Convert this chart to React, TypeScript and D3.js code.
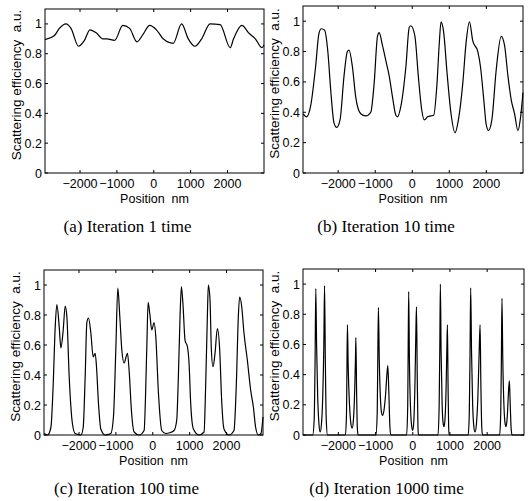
import { useRef, useEffect } from 'react';
import * as d3 from 'd3';

// x positions in nm, y in a.u.
const iter1: [number, number][] = [
  [-2950, 0.895], [-2700, 0.92], [-2560, 0.97], [-2380, 1.0], [-2245, 0.97], [-2040, 0.85],
  [-1880, 0.89], [-1730, 0.96], [-1560, 0.94], [-1380, 0.9], [-1270, 0.9], [-1060, 0.89],
  [-840, 0.99], [-655, 0.97], [-455, 0.88], [-290, 0.93], [-110, 0.99], [73, 0.96],
  [255, 0.9], [527, 0.87], [755, 1.0], [936, 0.9], [1118, 0.85], [1300, 0.9],
  [1527, 1.0], [1800, 0.995], [2073, 0.84], [2164, 0.9], [2391, 0.99], [2573, 0.94],
  [2755, 0.9], [2936, 0.84], [2990, 0.86],
];

const iter10: [number, number][] = [
  [-2944, 0.39], [-2853, 0.37], [-2745, 0.44], [-2610, 0.7], [-2519, 0.92], [-2456, 0.95],
  [-2366, 0.94], [-2276, 0.79], [-2203, 0.55], [-2113, 0.33], [-2041, 0.3], [-1950, 0.35],
  [-1842, 0.64], [-1752, 0.8], [-1707, 0.81], [-1616, 0.7], [-1526, 0.5], [-1391, 0.39],
  [-1255, 0.376], [-1120, 0.4], [-1029, 0.59], [-939, 0.9], [-894, 0.925], [-804, 0.84],
  [-713, 0.74], [-623, 0.64], [-533, 0.5], [-442, 0.38], [-397, 0.37], [-307, 0.44],
  [-172, 0.7], [-81, 0.96], [-36, 0.97], [72, 0.9], [163, 0.64], [253, 0.42],
  [325, 0.35], [415, 0.37], [506, 0.376], [578, 0.38], [668, 0.59], [731, 0.86],
  [777, 0.995], [849, 0.925], [939, 0.66], [1047, 0.39], [1156, 0.265], [1246, 0.35],
  [1364, 0.59], [1454, 0.86], [1544, 0.995], [1634, 0.87], [1770, 0.8], [1842, 0.7],
  [1932, 0.48], [1996, 0.32], [2059, 0.28], [2149, 0.35], [2267, 0.68], [2402, 0.9],
  [2492, 0.84], [2583, 0.64], [2673, 0.48], [2763, 0.39], [2853, 0.28], [2926, 0.37],
  [2989, 0.53],
];

const iter100: [number, number][] = [
  [-2944, 0.01], [-2853, 0], [-2763, 0.05], [-2700, 0.34], [-2646, 0.72], [-2601, 0.87],
  [-2537, 0.72], [-2492, 0.58], [-2429, 0.7], [-2375, 0.86], [-2330, 0.79], [-2267, 0.39],
  [-2176, 0.07], [-2104, 0.01], [-1950, 0], [-1887, 0.05], [-1833, 0.39], [-1788, 0.75],
  [-1743, 0.78], [-1679, 0.68], [-1616, 0.52], [-1562, 0.545], [-1526, 0.455], [-1472, 0.21],
  [-1409, 0.04], [-1291, 0], [-1138, 0.01], [-1066, 0.12], [-1002, 0.57], [-948, 0.98],
  [-894, 0.79], [-840, 0.57], [-777, 0.48], [-713, 0.53], [-686, 0.545], [-641, 0.43],
  [-578, 0.16], [-506, 0.02], [-370, 0], [-235, 0.03], [-163, 0.57], [-126, 0.885],
  [-81, 0.81], [-27, 0.7], [36, 0.75], [81, 0.66], [154, 0.28], [244, 0.03],
  [352, 0.01], [461, 0.015], [578, 0.03], [650, 0.1], [695, 0.39], [740, 0.79],
  [777, 0.99], [822, 0.86], [876, 0.63], [939, 0.59], [984, 0.48], [1029, 0.21],
  [1102, 0.04], [1255, 0], [1391, 0.02], [1436, 0.34], [1481, 0.79], [1508, 1.0],
  [1553, 0.9], [1589, 0.57], [1634, 0.455], [1689, 0.545], [1752, 0.71], [1815, 0.57],
  [1869, 0.23], [1932, 0.04], [2068, 0], [2203, 0.03], [2267, 0.34], [2321, 0.79],
  [2357, 0.92], [2411, 0.86], [2474, 0.68], [2565, 0.5], [2655, 0.3], [2727, 0.19],
  [2791, 0.05], [2863, 0], [2935, 0.01], [2989, 0.12],
];

const iter1000: [number, number][] = [
  [-2950, 0],
  [-2690, 0], [-2650, 0.1], [-2625, 0.5], [-2606, 0.97], [-2585, 0.6], [-2555, 0.25],
  [-2520, 0.07], [-2489, 0.02], [-2455, 0.07], [-2420, 0.25], [-2390, 0.6], [-2371, 0.99],
  [-2350, 0.5], [-2325, 0.1], [-2290, 0],
  [-1810, 0], [-1780, 0.15], [-1770, 0.4], [-1756, 0.73], [-1735, 0.45], [-1700, 0.2],
  [-1665, 0.08], [-1629, 0.045], [-1595, 0.1], [-1560, 0.3], [-1540, 0.5], [-1529, 0.645],
  [-1510, 0.3], [-1490, 0.05], [-1470, 0],
  [-990, 0], [-955, 0.15], [-940, 0.5], [-923, 0.845], [-900, 0.5], [-870, 0.25],
  [-840, 0.15], [-814, 0.13], [-770, 0.17], [-730, 0.27], [-695, 0.4], [-670, 0.46],
  [-645, 0.3], [-615, 0.06], [-590, 0],
  [-165, 0], [-135, 0.2], [-122, 0.6], [-109, 0.95], [-90, 0.5], [-60, 0.18],
  [-30, 0.06], [0, 0.03], [30, 0.1], [60, 0.35], [85, 0.7], [100, 0.85],
  [120, 0.4], [140, 0.05], [155, 0],
  [679, 0], [710, 0.2], [728, 0.6], [742, 1.0], [762, 0.55], [790, 0.2],
  [815, 0.08], [842, 0.055], [870, 0.12], [895, 0.3], [915, 0.55], [932, 0.73],
  [948, 0.35], [965, 0.05], [980, 0],
  [1490, 0], [1520, 0.15], [1540, 0.55], [1557, 0.975], [1580, 0.55], [1610, 0.2],
  [1640, 0.06], [1674, 0.02], [1710, 0.07], [1750, 0.25], [1785, 0.55], [1810, 0.73],
  [1830, 0.35], [1855, 0.05], [1875, 0],
  [2335, 0], [2365, 0.15], [2382, 0.5], [2398, 0.905], [2420, 0.5], [2450, 0.2],
  [2480, 0.08], [2507, 0.055], [2540, 0.12], [2570, 0.27], [2597, 0.36], [2620, 0.2],
  [2645, 0.04], [2670, 0],
  [2990, 0],
];

const xTicks = [-2000, -1000, 0, 1000, 2000];
const yTicks = [0, 0.2, 0.4, 0.6, 0.8, 1];
const yTickLabels = ['0', '0.2', '0.4', '0.6', '0.8', '1'];
const captions = ['(a) Iteration 1 time', '(b) Iteration 10 time', '(c) Iteration 100 time', '(d) Iteration 1000 time'];
const series = [iter1, iter10, iter100, iter1000];

const panels = [
  { left: 45, top: 9, right: 264, bottom: 173 },
  { left: 303, top: 6, right: 523, bottom: 173 },
  { left: 44, top: 270, right: 263, bottom: 435 },
  { left: 303, top: 269, right: 524, bottom: 435 },
];

const App = () => {
  const svgRef = useRef(null);

  useEffect(() => {
    const svg = d3.select(svgRef.current);
    svg.selectAll('*').remove();
    const sans = '"Liberation Sans", Arial, sans-serif';

    panels.forEach((p, i) => {
      const x = d3.scaleLinear().domain([-2950, 2990]).range([p.left, p.right]);
      const y = d3.scaleLinear().domain([0, 1.1]).range([p.bottom, p.top]);
      const g = svg.append('g');

      const line = d3.line<[number, number]>()
        .x(d => x(d[0]))
        .y(d => y(d[1]))
        .curve(d3.curveMonotoneX);

      g.append('path')
        .datum(series[i])
        .attr('d', line)
        .attr('fill', 'none')
        .attr('stroke', '#000')
        .attr('stroke-width', 1.2)
        .attr('stroke-linejoin', 'round');

      // inward ticks on all four sides
      const tl = 3;
      xTicks.forEach(t => {
        g.append('line').attr('x1', x(t)).attr('x2', x(t)).attr('y1', p.bottom).attr('y2', p.bottom - tl).attr('stroke', '#000');
        g.append('line').attr('x1', x(t)).attr('x2', x(t)).attr('y1', p.top).attr('y2', p.top + tl).attr('stroke', '#000');
      });
      yTicks.forEach(t => {
        g.append('line').attr('x1', p.left).attr('x2', p.left + tl).attr('y1', y(t)).attr('y2', y(t)).attr('stroke', '#000');
        g.append('line').attr('x1', p.right).attr('x2', p.right - tl).attr('y1', y(t)).attr('y2', y(t)).attr('stroke', '#000');
      });

      g.append('rect')
        .attr('x', p.left).attr('y', p.top)
        .attr('width', p.right - p.left).attr('height', p.bottom - p.top)
        .attr('fill', 'none').attr('stroke', '#000').attr('stroke-width', 1);

      g.selectAll('.xl')
        .data(xTicks)
        .join('text')
        .attr('x', d => x(d))
        .attr('y', p.bottom + 15)
        .attr('text-anchor', 'middle')
        .attr('font-family', sans)
        .attr('font-size', 12.5)
        .text(d => (d < 0 ? '\u2212' + Math.abs(d) : String(d)));

      g.selectAll('.yl')
        .data(yTicks)
        .join('text')
        .attr('x', p.left - 3)
        .attr('y', d => y(d) + 4.5)
        .attr('text-anchor', 'end')
        .attr('font-family', sans)
        .attr('font-size', 12.5)
        .text((d, k) => yTickLabels[k]);

      g.append('text')
        .attr('x', (p.left + p.right) / 2)
        .attr('y', p.bottom + 30)
        .attr('text-anchor', 'middle')
        .attr('font-family', sans)
        .attr('font-size', 12.5)
        .attr('xml:space', 'preserve')
        .style('white-space', 'pre')
        .text('Position  nm');

      const cy = (p.top + p.bottom) / 2 - 6;
      g.append('text')
        .attr('transform', `translate(${p.left - 24},${cy}) rotate(-90)`)
        .attr('text-anchor', 'middle')
        .attr('font-family', sans)
        .attr('font-size', 13.5)
        .style('white-space', 'pre')
        .text('Scattering efficiency  a.u.');

      g.append('text')
        .attr('x', (p.left + p.right) / 2 - 27)
        .attr('y', p.bottom + 59)
        .attr('text-anchor', 'middle')
        .attr('font-family', '"Liberation Serif", "Times New Roman", serif')
        .attr('font-size', 17)
        .text(captions[i]);
    });
  }, []);

  return (
    <svg ref={svgRef} width={530} height={501} style={{ position: 'absolute', left: 0, top: 0 }}></svg>
  );
};

export default App;
